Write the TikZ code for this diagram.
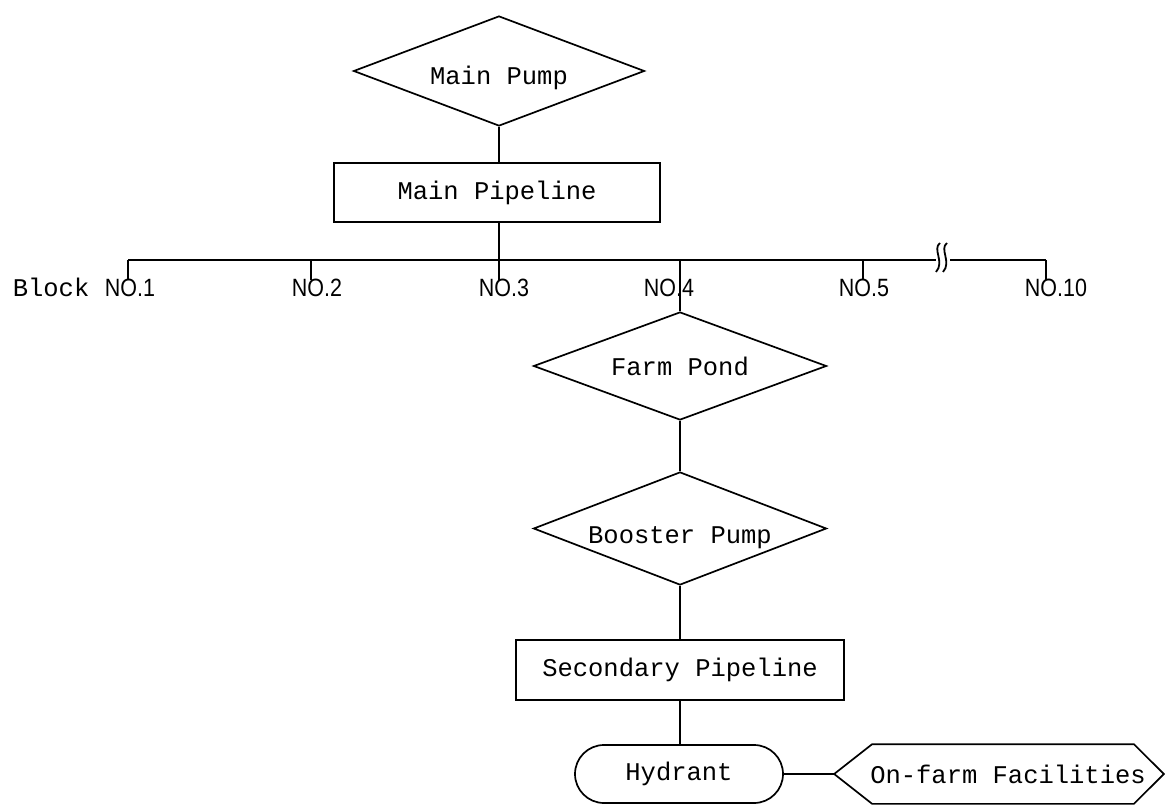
\documentclass[tikz,border=0pt]{standalone}
\usepackage{fontspec}
\setmainfont{Liberation Mono}
\newfontfamily\blocksans[FakeStretch=0.86]{Liberation Sans}
\usetikzlibrary{shapes.geometric}

\begin{document}
\begin{tikzpicture}[x=1pt,y=-1pt,line width=1.7pt,
  every node/.style={font=\fontsize{25.5}{30}\selectfont},
  pump/.style={diamond,draw,aspect=2.64,minimum width=291pt,minimum height=110pt,inner sep=0pt,
    text depth=2pt},
  pipe/.style={rectangle,draw,minimum width=326pt,minimum height=59pt,inner sep=0pt},
  outlet/.style={rectangle,draw,rounded corners=29pt,minimum width=208pt,minimum height=58pt,inner sep=0pt},
  facbox/.style={rectangle,minimum width=328pt,minimum height=58pt,inner sep=0pt},
  blocklabel/.style={anchor=base west,font=\blocksans\fontsize{25}{30}\selectfont,inner sep=0pt},
  plainlabel/.style={anchor=base west,inner sep=0pt}]
\useasboundingbox (0,0) rectangle (1165,805);

% upper column
\node[pump,text height=30pt] (mpump) at (499,71) {Main Pump};
\node[pipe] (mpipe) at (497,192.5) {Main Pipeline};

% distribution header with block taps
\coordinate (t1) at (128,260);
\coordinate (t2) at (311,260);
\coordinate (t3) at (499,260);
\coordinate (t4) at (680,260);
\coordinate (t5) at (863,260);
\coordinate (t10) at (1046,260);
\coordinate (b1) at (128,280);
\coordinate (b2) at (311,280);
\coordinate (b3) at (499,281);
\coordinate (b5) at (863,280);
\coordinate (b10) at (1046,280);
\coordinate (brkL) at (936,260);
\coordinate (brkR) at (950,260);

\node[plainlabel] (blk) at (12,297) {Block};
\node[blocklabel] (n1) at (104,297) {NO.1};
\node[blocklabel] (n2) at (291,297) {NO.2};
\node[blocklabel] (n3) at (478,297) {NO.3};
\node[blocklabel] (n4) at (643,297) {NO.4};
\node[blocklabel] (n5) at (838,297) {NO.5};
\node[blocklabel] (n10) at (1024,297) {NO.10};

% lower column for block 4
\node[pump,minimum width=293pt,minimum height=108pt,text height=21pt] (fpond) at (680,366) {Farm Pond};
\node[pump,minimum width=293pt,minimum height=113pt,text height=31pt] (bpump) at (680,528.5) {Booster Pump};
\node[pipe,minimum width=328pt,minimum height=60pt] (spipe) at (680,670) {Secondary Pipeline};
\node[outlet] (hyd) at (679,774) {Hydrant};
\node[facbox] (fac) at (999,774) {\hspace*{18pt}On-farm Facilities};
\draw ([xshift=38pt]fac.north west) -- ([xshift=-30pt]fac.north east) -- (fac.east)
  -- ([xshift=-30pt]fac.south east) -- ([xshift=38pt]fac.south west) -- (fac.west) -- cycle;

% connectors
\draw (mpump.south) -- (mpump.south |- mpipe.north);
\draw (mpump.south |- mpipe.south) -- (b3);
\draw (t1) -- (brkL);
\draw (brkR) -- (t10);
\draw (t1) -- (b1);
\draw (t2) -- (b2);
\draw (t5) -- (b5);
\draw (t10) -- (b10);
\draw (t4) -- (fpond.north);
\draw (fpond.south) -- (bpump.north);
\draw (bpump.south) -- (spipe.north);
\draw (spipe.south) -- (spipe.south |- hyd.north);
\draw (hyd.east) -- (fac.west);

% break mark on the header
\draw[line width=1.8pt] (940,243) .. controls (932,249) and (945,262) .. (936,272);
\draw[line width=1.8pt] (947,243) .. controls (939,249) and (952,262) .. (943,272);
\end{tikzpicture}
\end{document}
